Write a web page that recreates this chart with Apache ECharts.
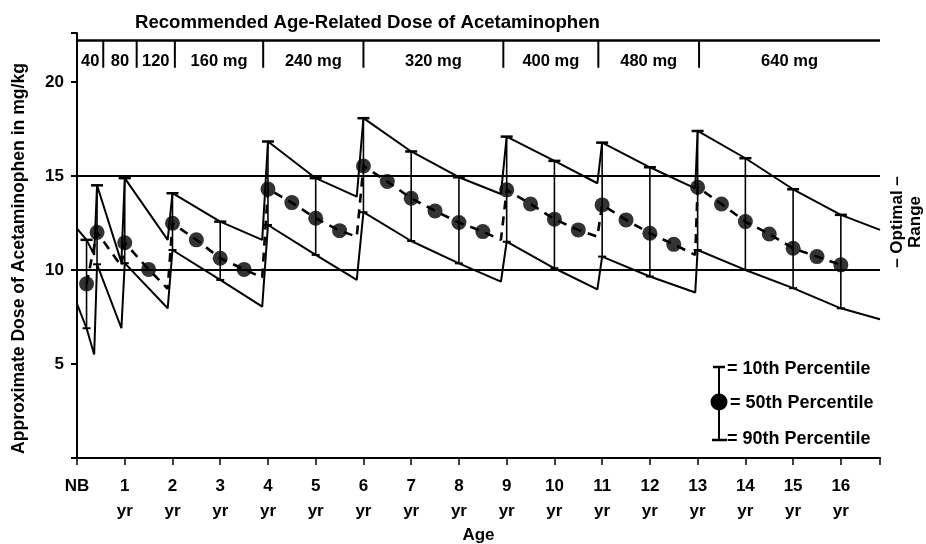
<!DOCTYPE html>
<html><head><meta charset="utf-8">
<script src="https://cdn.jsdelivr.net/npm/echarts@6/dist/echarts.min.js"></script>
<style>html,body{margin:0;padding:0;background:#fff}#c{width:926px;height:544px}</style>
</head><body><div id="c"></div>
<script>
const FONT = "'Liberation Sans', Arial, Helvetica, sans-serif";

// ---- axis / tick labels ----
const xTickLabels = ['NB','1','2','3','4','5','6','7','8','9','10','11','12','13','14','15','16'];
const yTickLabels = ['', '5', '10', '15', '20'];

// ---- recommended dose bands (age boundaries, labels) ----
const doseBounds = [0, 0.55, 1.25, 2.05, 3.9, 6.0, 8.93, 10.92, 13.03, 16.82];
const doseLabels = ['40', '80', '120', '160 mg', '240 mg', '320 mg', '400 mg', '480 mg', '640 mg'];

// ---- 10th percentile weight (upper line), mg/kg ----
const p10 = [
  [0, 12.2], [0.2, 11.6], [0.36, 10.8],
  [0.42, 14.5], [0.93, 10.4],
  [1, 14.88], [1.9, 11.6],
  [2, 14.08], [3, 12.57], [3.88, 11.6],
  [4, 16.83], [5, 14.88], [5.86, 13.9],
  [6, 18.07], [7, 16.3], [8, 14.93], [8.88, 14.04],
  [9, 17.09], [10, 15.8], [10.9, 14.61],
  [11, 16.77], [12, 15.46], [12.95, 14.34],
  [13, 17.39], [14, 15.94], [15, 14.29], [16, 12.93], [16.82, 12.13]
];

// ---- 90th percentile weight (lower line), mg/kg ----
const p90 = [
  [0, 8.2], [0.2, 6.9], [0.36, 5.5],
  [0.42, 10.3], [0.93, 6.9],
  [1, 10.36], [1.9, 7.96],
  [2, 11.06], [3, 9.47], [3.88, 8.05],
  [4, 12.39], [5, 10.8], [5.86, 9.47],
  [6, 13.07], [7, 11.54], [8, 10.35], [8.88, 9.38],
  [9, 11.5], [10, 10.09], [10.9, 8.97],
  [11, 10.71], [12, 9.65], [12.95, 8.8],
  [13, 11.06], [14, 10.0], [15, 9.03], [16, 7.96], [16.82, 7.38]
];

// ---- 50th percentile weight: plotted dots ----
const p50Dots = [
  [0.2, 9.26], [0.42, 12.0], [1, 11.45], [1.5, 10.03],
  [2, 12.48], [2.5, 11.6], [3, 10.62], [3.5, 10.03],
  [4, 14.3], [4.5, 13.58], [5, 12.75], [5.5, 12.09],
  [6, 15.53], [6.5, 14.7], [7, 13.81], [7.5, 13.14], [8, 12.52], [8.5, 12.04],
  [9, 14.26], [9.5, 13.51], [10, 12.7], [10.5, 12.13],
  [11, 13.46], [11.5, 12.66], [12, 11.95], [12.5, 11.36],
  [13, 14.4], [13.5, 13.51], [14, 12.57], [14.5, 11.91], [15, 11.15], [15.5, 10.71], [16, 10.27]
];
// ---- 50th percentile: end of each dose band (dashed line turns up) ----
const p50Ends = [
  [0.93, 10.2], [1.9, 9.0], [3.88, 9.6], [5.86, 11.77],
  [8.88, 11.6], [10.9, 11.77], [12.95, 10.8]
];

// ---- percentile bars: [age, 10th pct value, 90th pct value] ----
const errorBars = [
  [0.2, 11.6, 6.9], [0.42, 14.5, 10.3], [1, 14.88, 10.36], [2, 14.08, 11.06], [3, 12.57, 9.47],
  [4, 16.83, 12.39], [5, 14.88, 10.8], [6, 18.07, 13.07], [7, 16.3, 11.54], [8, 14.93, 10.35],
  [9, 17.09, 11.5], [10, 15.8, 10.09], [11, 16.77, 10.71], [12, 15.46, 9.65],
  [13, 17.39, 11.06], [14, 15.94, 10.0], [15, 14.29, 9.03], [16, 12.93, 7.96]
];

// ---- optimal range limits ----
const optimalRange = [10, 15];

const DOSE_TOP = 22.2, DOSE_BOTTOM = 20.75, DOSE_LABEL_Y = 21.1;

const p50Path = p50Dots.concat(p50Ends).sort((a, b) => a[0] - b[0]);
const doseBands = doseLabels.map((l, i) => [doseBounds[i], doseBounds[i + 1]]);

const chart = echarts.init(document.getElementById('c'), null, {renderer: 'canvas'});
const txt = {fontFamily: FONT, fontWeight: 'bold', color: '#000'};

chart.setOption({
  animation: false,
  backgroundColor: '#fff',
  title: {
    text: 'Recommended Age-Related Dose of Acetaminophen',
    left: 130, top: 8,
    textStyle: Object.assign({}, txt, {fontSize: 18.6})
  },
  grid: {left: 77, right: 46, top: 33, bottom: 86, containLabel: false, outerBoundsMode: 'none'},
  xAxis: {
    type: 'value', min: 0, max: 16.82, interval: 1,
    name: 'Age', nameLocation: 'middle', nameGap: 69, nameMoveOverlap: false,
    nameTextStyle: Object.assign({}, txt, {fontSize: 17}),
    axisLine: {lineStyle: {color: '#000', width: 2}},
    axisTick: {length: 7, lineStyle: {color: '#000', width: 1.5}},
    splitLine: {show: false},
    axisLabel: Object.assign({}, txt, {
      fontSize: 17, lineHeight: 25, margin: 16,
      formatter: v => { const i = Math.round(v); if (Math.abs(v - i) > 1e-6) return ''; return i === 0 ? xTickLabels[0] : xTickLabels[i] + '\nyr'; }
    })
  },
  yAxis: {
    type: 'value', min: 0, max: 22.6, interval: 5,
    name: 'Approximate Dose of Acetaminophen in mg/kg', nameLocation: 'middle', nameGap: 49, nameMoveOverlap: false,
    nameTextStyle: Object.assign({}, txt, {fontSize: 17.6, padding: [0, 26, 0, 0]}),
    axisLine: {lineStyle: {color: '#000', width: 2}},
    axisTick: {length: 6, lineStyle: {color: '#000', width: 2}},
    splitLine: {show: false},
    axisLabel: Object.assign({}, txt, {
      fontSize: 17, margin: 13,
      formatter: v => { const i = Math.round(v / 5); if (Math.abs(v - i * 5) > 1e-6) return ''; return yTickLabels[i] || ''; }
    })
  },
  graphic: [
    {type: 'text', x: 906, y: 222, rotation: Math.PI / 2,
     style: {text: '\u2013 Optimal \u2013\nRange', font: 'bold 17px ' + FONT, fill: '#000', align: 'center', verticalAlign: 'middle', lineHeight: 18}},
    // legend glyph
    {type: 'line', shape: {x1: 719, y1: 367, x2: 719, y2: 440}, style: {stroke: '#000', lineWidth: 2}},
    {type: 'line', shape: {x1: 713, y1: 367, x2: 725, y2: 367}, style: {stroke: '#000', lineWidth: 2.5}},
    {type: 'line', shape: {x1: 712, y1: 440, x2: 727, y2: 440}, style: {stroke: '#000', lineWidth: 2.5}},
    {type: 'circle', shape: {cx: 719, cy: 402, r: 8.5}, style: {fill: '#000'}},
    {type: 'text', x: 727, y: 369, style: {text: '= 10th Percentile', font: 'bold 18px ' + FONT, fill: '#000', verticalAlign: 'middle'}},
    {type: 'text', x: 730, y: 403, style: {text: '= 50th Percentile', font: 'bold 18px ' + FONT, fill: '#000', verticalAlign: 'middle'}},
    {type: 'text', x: 727, y: 439, style: {text: '= 90th Percentile', font: 'bold 18px ' + FONT, fill: '#000', verticalAlign: 'middle'}}
  ],
  series: [
    {
      name: '10th', type: 'line', data: p10, symbol: 'none',
      lineStyle: {color: '#000', width: 2}, z: 3,
      markLine: {
        silent: true, symbol: 'none', label: {show: false},
        lineStyle: {color: '#000', width: 2, type: 'solid'},
        data: [{yAxis: optimalRange[0]}, {yAxis: optimalRange[1]}, {yAxis: DOSE_TOP, lineStyle: {width: 2.5}}]
      }
    },
    {name: '90th', type: 'line', data: p90, symbol: 'none', lineStyle: {color: '#000', width: 2}, z: 3},
    {name: '50th', type: 'line', data: p50Path, symbol: 'none',
     lineStyle: {color: '#000', width: 2.6, type: [9, 7]}, z: 3},
    {name: '50th dots', type: 'scatter', data: p50Dots, symbol: 'circle', symbolSize: 15,
     itemStyle: {color: '#000'}, z: 4},
    {
      name: 'bars', type: 'custom', data: errorBars, encode: {x: 0, y: [1, 2]}, z: 3,
      renderItem: (params, api) => {
        const x = api.value(0), hi = api.value(1), lo = api.value(2);
        const t = api.coord([x, hi]), b = api.coord([x, lo]);
        const st = {stroke: '#000', lineWidth: 1.6};
        return {type: 'group', children: [
          {type: 'line', shape: {x1: t[0], y1: t[1], x2: b[0], y2: b[1]}, style: st},
          {type: 'line', shape: {x1: t[0] - 6, y1: t[1], x2: t[0] + 6, y2: t[1]}, style: {stroke: '#000', lineWidth: 2.5}},
          {type: 'line', shape: {x1: b[0] - 4, y1: b[1], x2: b[0] + 4, y2: b[1]}, style: {stroke: '#000', lineWidth: 2}}
        ]};
      }
    },
    {
      name: 'dose', type: 'custom', data: doseBands, encode: {x: [0, 1]}, z: 3,
      renderItem: (params, api) => {
        const s = api.value(0), e = api.value(1);
        const a = api.coord([s, DOSE_TOP]), b = api.coord([s, DOSE_BOTTOM]), c = api.coord([e, DOSE_LABEL_Y]);
        const children = [{type: 'text', style: {
          text: doseLabels[params.dataIndex], x: (a[0] + c[0]) / 2, y: c[1],
          align: 'center', verticalAlign: 'middle', font: 'bold 16.5px ' + FONT, fill: '#000'}}];
        if (s > 0) children.push({type: 'line', shape: {x1: a[0], y1: a[1], x2: b[0], y2: b[1]}, style: {stroke: '#000', lineWidth: 2}});
        return {type: 'group', children};
      }
    }
  ]
});
</script></body></html>
